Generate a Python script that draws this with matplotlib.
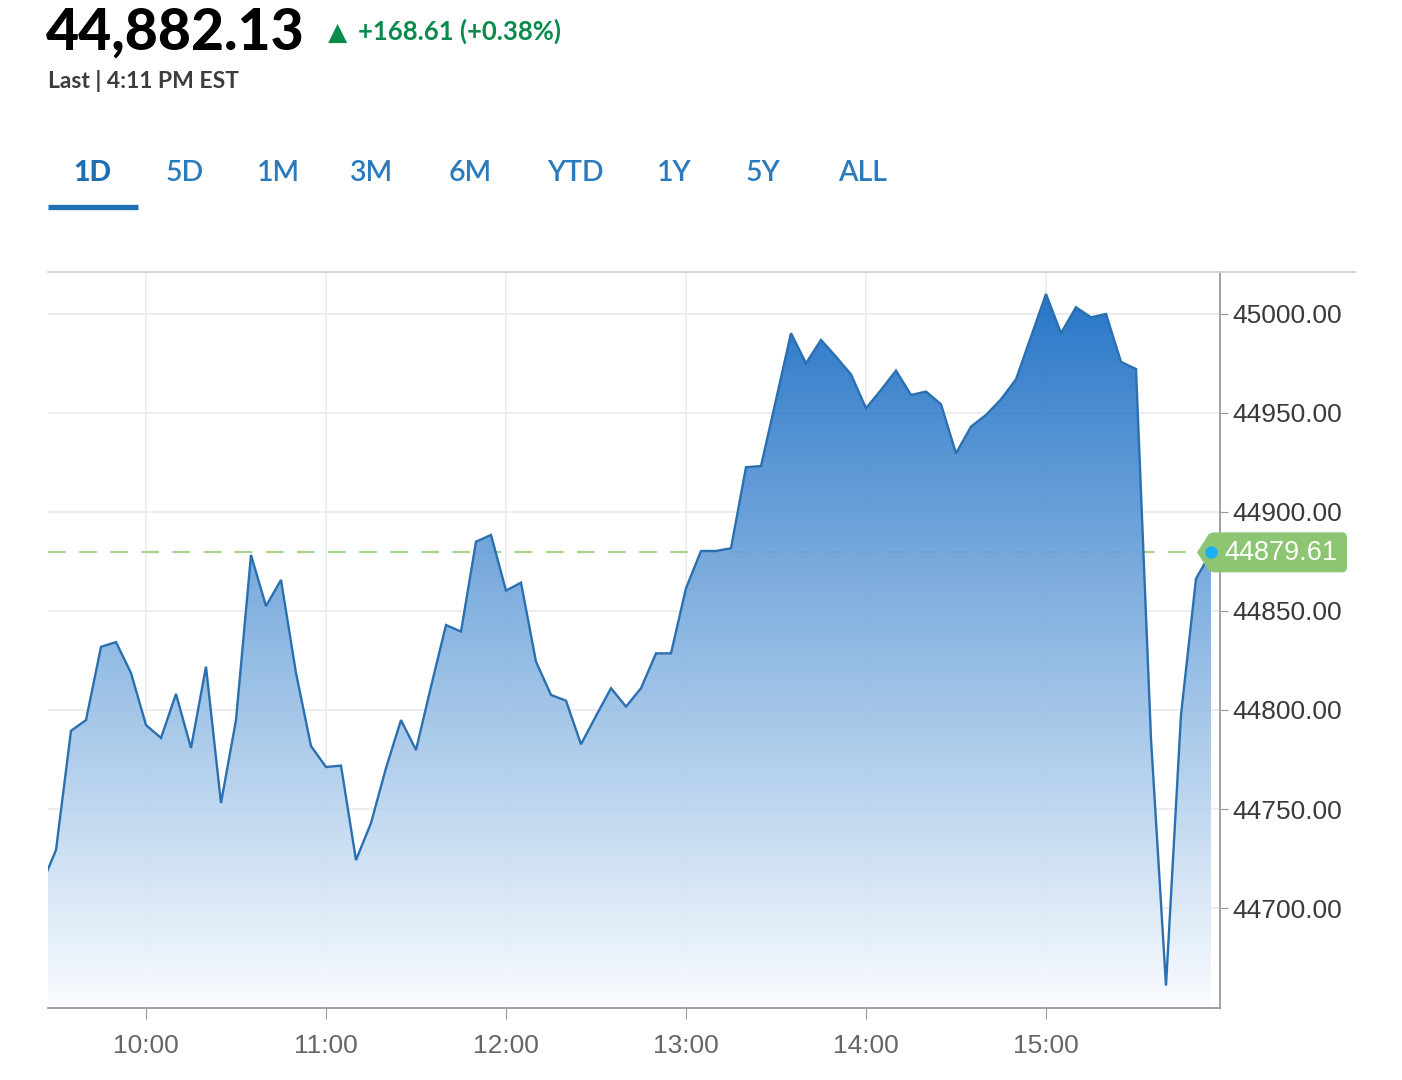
import matplotlib
matplotlib.use("Agg")
import matplotlib.pyplot as plt
import matplotlib.dates as mdates
import matplotlib.transforms as mtransforms
from matplotlib.patches import FancyBboxPatch, Polygon
from matplotlib.colors import LinearSegmentedColormap
from matplotlib.lines import Line2D
import numpy as np
import pandas as pd

# header text
last_price = "44,882.13"
change_text = "+168.61 (+0.38%)"
last_time = "Last | 4:11 PM EST"
tabs = ["1D", "5D", "1M", "3M", "6M", "YTD", "1Y", "5Y", "ALL"]

# 5 minute prices, first one is 9:25 (cut off by the left edge)
prices = [
    44711.1,
    44729.3, 44789.5, 44794.9, 44831.9, 44834.3, 44818.7,  # 9:30 - 9:55
    44792.4, 44785.9, 44808.1, 44780.8, 44821.9, 44753.0,  # 10:00 - 10:25
    44794.9, 44878.3, 44852.5, 44865.7, 44818.7, 44781.8,  # 10:30 - 10:55
    44771.2, 44771.9, 44724.2, 44742.9, 44770.7, 44794.9,  # 11:00 - 11:25
    44779.8, 44811.8, 44842.9, 44839.6, 44885.0, 44888.4,  # 11:30 - 11:55
    44860.3, 44864.3, 44824.4, 44807.6, 44804.7, 44782.7,  # 12:00 - 12:25
    44797.0, 44811.0, 44801.7, 44811.0, 44828.6, 44828.6,  # 12:30 - 12:55
    44861.5, 44880.3, 44880.3, 44881.7, 44922.6, 44923.2,  # 13:00 - 13:25
    44956.6, 44990.3, 44975.1, 44986.9, 44978.4, 44969.5,  # 13:30 - 13:55
    44952.4, 44961.6, 44971.4, 44959.1, 44960.8, 44954.4,  # 14:00 - 14:25
    44929.6, 44943.1, 44949.0, 44956.9, 44967.0, 44988.5,  # 14:30 - 14:55
    45010.1, 44990.3, 45003.4, 44998.3, 45000.0, 44975.8,  # 15:00 - 15:25
    44972.2, 44785.4, 44660.8, 44797.5, 44866.3, 44879.61,  # 15:30 - 15:55
]
last_value = 44879.61
y_ticks = [44700, 44750, 44800, 44850, 44900, 44950, 45000]

times = pd.date_range("2024-12-04 09:25", periods=len(prices), freq="5min")
x = mdates.date2num(times.to_pydatetime())
y = np.array(prices)

W, H = 1402, 1080
def fx(px): return px / W
def fy(py): return 1 - py / H

fig = plt.figure(figsize=(W / 100, H / 100), dpi=100)
fig.patch.set_facecolor("white")
ax = fig.add_axes([fx(48), fy(1008), 1172 / W, 736 / H])

x0 = mdates.date2num(pd.Timestamp("2024-12-04 09:27:20").to_pydatetime())
x1 = mdates.date2num(pd.Timestamp("2024-12-04 15:58:00").to_pydatetime())
ylo, yhi = 44649.5, 45021.2

# gradient fill under the line
poly = ax.fill_between(x, y, ylo, facecolor="none", edgecolor="none")
cmap = LinearSegmentedColormap.from_list("blu", ["#fafcff", "#8ab6e2", "#186cc4"])
grad = np.linspace(0, 1, 256).reshape(-1, 1)
im = ax.imshow(grad, extent=[x0, x1, ylo, y.max()], origin="lower", aspect="auto",
               cmap=cmap, zorder=1, alpha=0.93)
im.set_clip_path(poly.get_paths()[0], transform=ax.transData)

ax.plot(x, y, color="#2a70b0", lw=1.7, zorder=3, solid_joinstyle="miter")

# last value line (sits behind the fill)
ax.axhline(last_value, color="#a9d48e", lw=1.6, ls=(0, (8, 6)), zorder=0.8)

ax.set_xlim(x0, x1)
ax.set_ylim(ylo, yhi)

ax.grid(True, color="#e8e8e8", lw=1.1, zorder=0.5)
ax.set_axisbelow(True)
for s in ["left", "top"]:
    ax.spines[s].set_visible(False)
for s in ["right", "bottom"]:
    ax.spines[s].set_color("#9a9a9a")
    ax.spines[s].set_linewidth(1.3)

ax.yaxis.tick_right()
ax.set_yticks(y_ticks)
ax.set_yticklabels([f"{v:.2f}" for v in y_ticks])
ax.tick_params(axis="y", length=6, color="#9a9a9a", labelcolor="#3a3a3a",
               labelsize=19, pad=3)
ax.xaxis.set_major_locator(mdates.HourLocator(byhour=range(10, 16)))
ax.xaxis.set_major_formatter(mdates.DateFormatter("%H:%M"))
ax.tick_params(axis="x", length=8, color="#9a9a9a", labelcolor="#666666",
               labelsize=19, pad=11)
for lab in ax.get_xticklabels() + ax.get_yticklabels():
    lab.set_family("Liberation Sans")

# price flag on the right
anchor = mtransforms.ScaledTranslation(x[-1], last_value, ax.transData)
tr = fig.dpi_scale_trans + anchor
box = FancyBboxPatch((-0.02, -0.2), 1.38, 0.4,
                     boxstyle="round,pad=0,rounding_size=0.05",
                     facecolor="#8dc672", edgecolor="none", transform=tr,
                     clip_on=False, zorder=5)
ax.add_patch(box)
tip = Polygon([(-0.14, 0.0), (-0.01, 0.2), (-0.01, -0.2)], closed=True,
              facecolor="#8dc672", edgecolor="none", transform=tr,
              clip_on=False, zorder=5)
ax.add_patch(tip)
ax.text(0.13, -0.01, f"{last_value:.2f}", transform=tr, color="white", fontsize=19.5,
        family="Liberation Sans", va="center", ha="left", zorder=7, clip_on=False)
ax.plot([x[-1]], [last_value], "o", color="#1ab0f2", ms=9, mec="none",
        zorder=8, clip_on=False)

# top border line of the chart area
fig.add_artist(Line2D([fx(48), fx(1355)], [fy(272), fy(272)], color="#d0d0d0", lw=1.3))

# header
fig.text(fx(46), fy(50), last_price, fontsize=41, fontweight="black",
         family="Lato", color="#000000", va="baseline")
fig.text(fx(328), fy(40), "\u25B2", fontsize=18, family="DejaVu Sans",
         color="#0b8a4e", va="baseline")
fig.text(fx(358), fy(40), change_text, fontsize=18.5, fontweight="bold",
         family="Lato", color="#0b8a4e", va="baseline")
fig.text(fx(48), fy(88), last_time, fontsize=16.5, fontweight="bold",
         family="Lato", color="#3d3d3d", va="baseline")

tab_x = [92, 185, 278, 372, 470, 575, 674, 763, 862]
for i, (t, tx) in enumerate(zip(tabs, tab_x)):
    fig.text(fx(tx), fy(181), t, fontsize=20.5,
             fontweight="black" if i == 0 else "semibold",
             family="Lato", color="#1f6fb3" if i == 0 else "#2a7bbd",
             ha="center", va="baseline")
fig.add_artist(Line2D([fx(48), fx(138)], [fy(206.5), fy(206.5)], color="#1f6fb3",
                      lw=3.8, solid_capstyle="butt"))

fig.savefig("out.png", dpi=100)
